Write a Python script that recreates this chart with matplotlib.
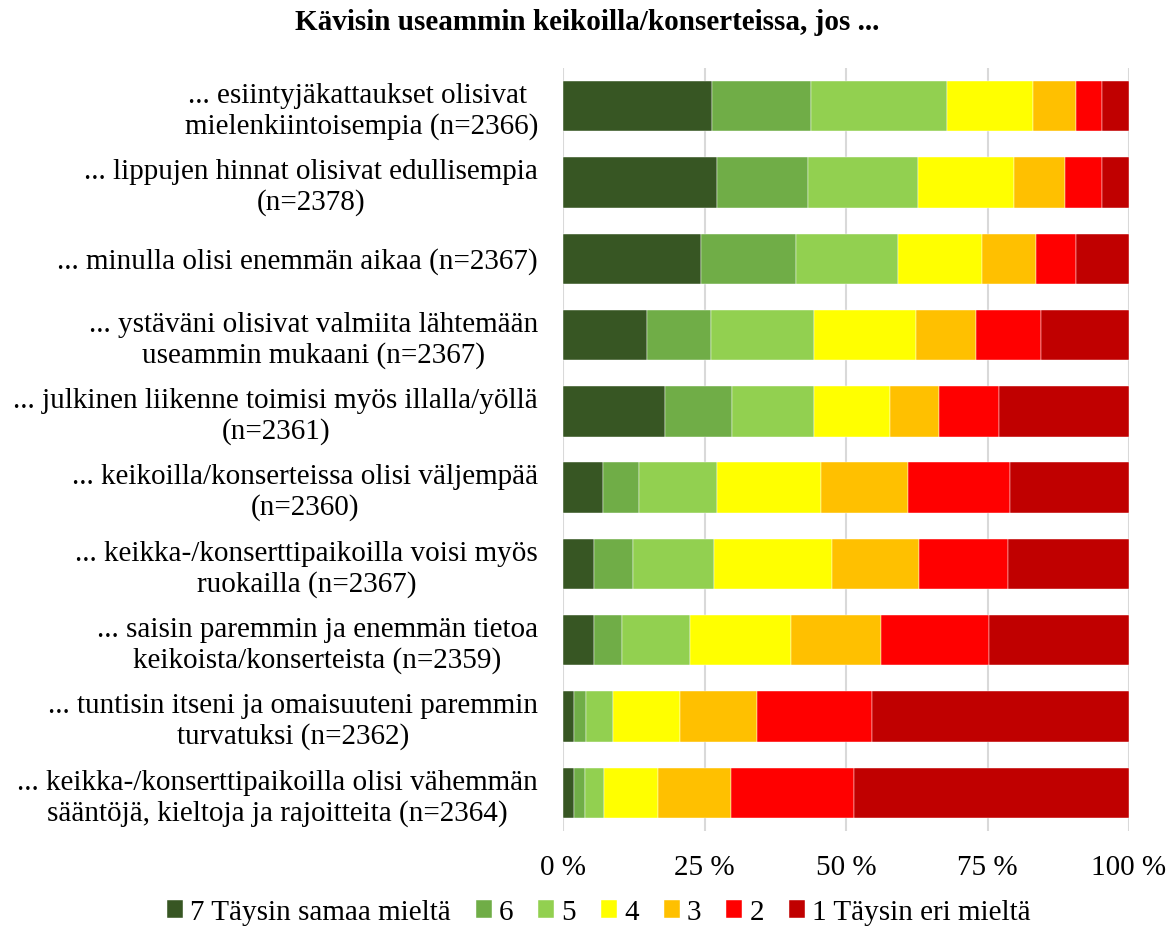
import numpy as np
import matplotlib
matplotlib.use('Agg')
from matplotlib import pyplot as plt

plt.rcParams['font.family'] = ['Liberation Serif', 'DejaVu Serif']

questions = [
    '... esiintyjäkattaukset olisivat \nmielenkiintoisempia (n=2366)',
    '... lippujen hinnat olisivat edullisempia\n(n=2378)',
    '... minulla olisi enemmän aikaa (n=2367)',
    '... ystäväni olisivat valmiita lähtemään\nuseammin mukaani (n=2367)',
    '... julkinen liikenne toimisi myös illalla/yöllä\n(n=2361)',
    '... keikoilla/konserteissa olisi väljempää\n(n=2360)',
    '... keikka-/konserttipaikoilla voisi myös\nruokailla (n=2367)',
    '... saisin paremmin ja enemmän tietoa\nkeikoista/konserteista (n=2359)',
    '... tuntisin itseni ja omaisuuteni paremmin\nturvatuksi (n=2362)',
    '... keikka-/konserttipaikoilla olisi vähemmän\nsääntöjä, kieltoja ja rajoitteita (n=2364)',
]

series_names = ['7 Täysin samaa mieltä', '6', '5', '4', '3', '2', '1 Täysin eri mieltä']
colors = ['#375623', '#70AD47', '#92D050', '#FFFF00', '#FFC000', '#FF0000', '#C00000']

# percentages per answer (7..1), one list per question
s7 = [26.4, 27.1, 24.3, 14.8, 18.0, 7.0, 5.4, 5.4, 1.9, 2.0]
s6 = [17.5, 16.1, 16.9, 11.4, 11.8, 6.4, 6.9, 5.1, 2.1, 1.8]
s5 = [24.0, 19.4, 18.0, 18.2, 14.6, 13.9, 14.4, 12.0, 4.9, 3.5]
s4 = [15.2, 17.0, 14.9, 17.9, 13.3, 18.3, 20.8, 17.8, 11.7, 9.4]
s3 = [7.6, 9.0, 9.4, 10.6, 8.7, 15.4, 15.4, 15.9, 13.6, 13.0]
s2 = [4.7, 6.6, 7.1, 11.5, 10.6, 18.0, 15.7, 19.0, 20.4, 21.7]
s1 = [4.7, 4.7, 9.4, 15.6, 23.0, 21.1, 21.4, 24.8, 45.4, 48.6]

data = np.array([s7, s6, s5, s4, s3, s2, s1])
data = data / data.sum(axis=0) * 100

fig = plt.figure(figsize=(11.74, 9.35), dpi=100)
ax = fig.add_axes([0.4796, 0.1112, 0.4821, 0.8161])

y = np.arange(len(questions))
left = np.zeros(len(questions))
for vals, name, col in zip(data, series_names, colors):
    ax.barh(y, vals, left=left, height=0.66, color=col, label=name,
            edgecolor='white', linewidth=0.3, zorder=3)
    left += vals

ax.set_xlim(0, 100)
ax.set_ylim(len(questions) - 0.5, -0.5)
ax.set_xticks([0, 25, 50, 75, 100])
ax.set_xticklabels(['0 %', '25 %', '50 %', '75 %', '100 %'], fontsize=21)
ax.set_yticks(y)
ax.set_yticklabels(questions, fontsize=21)
for lab in ax.get_yticklabels():
    lab.set_multialignment('center')
    lab.set_linespacing(1.2)
ax.tick_params(axis='both', length=0)
ax.tick_params(axis='y', pad=18)
ax.tick_params(axis='x', pad=17)
ax.grid(axis='x', color='#d9d9d9', linewidth=1.5, zorder=0)
for sp in ax.spines.values():
    sp.set_visible(False)

fig.text(0.5, 0.976, 'Kävisin useammin keikoilla/konserteissa, jos ...',
         ha='center', va='center', fontsize=21, fontweight='bold')

fig.legend(*ax.get_legend_handles_labels(), loc='center', bbox_to_anchor=(0.51, 0.024),
           ncol=7, frameon=False, fontsize=21, handlelength=0.55, handleheight=0.55,
           handletextpad=0.25, columnspacing=0.85)

fig.savefig('out.png', dpi=100)
